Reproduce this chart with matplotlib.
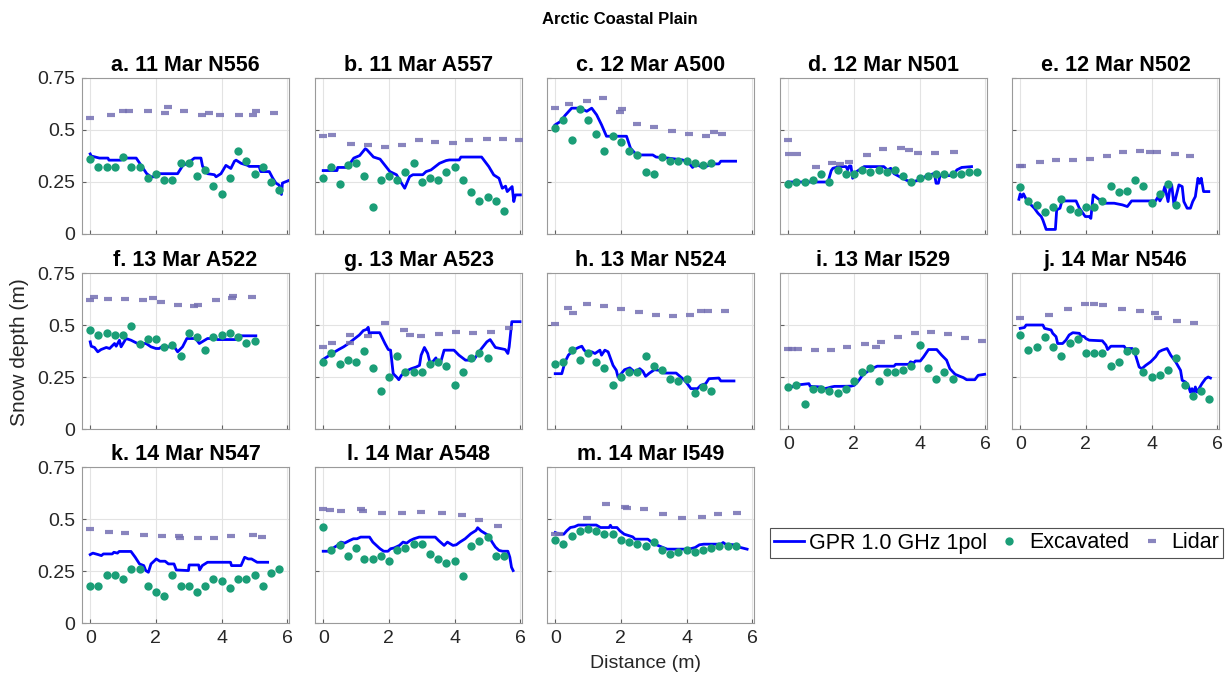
import matplotlib
matplotlib.use("Agg")
import matplotlib.pyplot as plt

plt.rcParams["font.family"] = ["Liberation Sans", "DejaVu Sans"]

# excavation positions along each transect (m)
DIST = [0.0, 0.25, 0.5, 0.75, 1.0, 1.25, 1.5, 1.75, 2.0, 2.25, 2.5, 2.75,
        3.0, 3.25, 3.5, 3.75, 4.0, 4.25, 4.5, 4.75, 5.0, 5.25, 5.5, 5.75]

# ---- a. 11 Mar N556
gpr_a_x = [0, 0.03, 0.28, 0.54, 0.57, 0.94, 0.99, 1.4, 1.55, 1.72, 1.85, 2.0, 2.06, 2.66, 2.82, 2.97, 3.17, 3.37, 3.42, 3.52,
           3.57, 3.78, 3.83, 3.98, 4.13, 4.28, 4.39, 4.44, 4.59, 4.79, 4.84, 5.14, 5.19, 5.45, 5.55, 5.65, 5.75, 5.82, 5.85, 6.04]
gpr_a_y = [0.385, 0.375, 0.365, 0.365, 0.355, 0.355, 0.365, 0.365, 0.33, 0.29, 0.275, 0.275, 0.29, 0.29, 0.33, 0.34, 0.365, 0.365, 0.325, 0.31,
           0.29, 0.285, 0.275, 0.29, 0.33, 0.315, 0.35, 0.355, 0.34, 0.33, 0.325, 0.325, 0.30, 0.30, 0.27, 0.245, 0.235, 0.19, 0.245, 0.257]
exc_a = [0.36, 0.32, 0.32, 0.32, 0.37, 0.32, 0.32, 0.27, 0.29, 0.26, 0.26, 0.34, 0.34, 0.28, 0.31, 0.23, 0.19, 0.27, 0.40, 0.35, 0.29, 0.32, 0.25, 0.21]
lid_a_x = [0, 0.64, 0.99, 1.19, 1.75, 2.29, 2.37, 2.84, 3.40, 3.63, 3.96, 4.54, 4.96, 5.06, 5.6]
lid_a_y = [0.56, 0.57, 0.59, 0.59, 0.59, 0.58, 0.61, 0.59, 0.57, 0.58, 0.57, 0.57, 0.57, 0.59, 0.58]

# ---- b. 11 Mar A557
gpr_b_x = [0, 0.42, 0.44, 0.73, 0.93, 1.11, 1.28, 1.33, 1.53, 1.73, 1.88, 2.03, 2.23, 2.38, 2.48, 2.63, 2.73, 3.03, 3.13, 3.28,
           3.54, 3.74, 3.84, 4.14, 4.19, 4.82, 5.04, 5.19, 5.35, 5.45, 5.55, 5.6, 5.75, 5.8, 5.85, 6.0]
gpr_b_y = [0.305, 0.305, 0.32, 0.32, 0.365, 0.377, 0.41, 0.405, 0.37, 0.36, 0.33, 0.30, 0.285, 0.245, 0.22, 0.276, 0.285, 0.285, 0.30, 0.308,
           0.34, 0.353, 0.356, 0.356, 0.37, 0.37, 0.324, 0.284, 0.268, 0.22, 0.23, 0.204, 0.228, 0.156, 0.188, 0.188]
exc_b = [0.27, 0.32, 0.24, 0.33, 0.34, 0.28, 0.13, 0.26, 0.28, 0.26, 0.30, 0.34, 0.25, 0.27, 0.26, 0.30, 0.32, 0.26, 0.20, 0.16, 0.18, 0.16, 0.11]
lid_b_x = [0, 0.27, 0.84, 1.36, 1.88, 2.4, 2.9, 3.39, 3.94, 4.44, 4.97, 5.47, 5.97]
lid_b_y = [0.472, 0.477, 0.434, 0.429, 0.418, 0.429, 0.453, 0.44, 0.437, 0.45, 0.456, 0.456, 0.45]

# ---- c. 12 Mar A500
gpr_c_x = [0, 0.15, 0.3, 0.5, 0.76, 0.96, 1.11, 1.26, 1.41, 1.56, 1.71, 2.17, 2.29, 2.42, 2.57, 2.97, 3.07, 3.43, 3.88, 4.08,
           4.18, 4.28, 4.43, 4.58, 4.78, 4.98, 5.04, 5.49]
gpr_c_y = [0.525, 0.54, 0.57, 0.605, 0.605, 0.59, 0.605, 0.573, 0.525, 0.47, 0.47, 0.47, 0.413, 0.39, 0.38, 0.38, 0.37, 0.365, 0.356, 0.34,
           0.32, 0.337, 0.324, 0.324, 0.337, 0.337, 0.35, 0.35]
exc_c = [0.51, 0.55, 0.45, 0.60, 0.55, 0.48, 0.40, 0.47, 0.44, 0.40, 0.38, 0.30, 0.29, 0.37, 0.35, 0.35, 0.35, 0.34, 0.33, 0.34]
lid_c_x = [0, 0.42, 0.96, 1.46, 1.96, 2.04, 2.49, 3.02, 3.54, 4.06, 4.58, 4.84, 5.07]
lid_c_y = [0.605, 0.626, 0.64, 0.655, 0.585, 0.60, 0.53, 0.514, 0.495, 0.479, 0.472, 0.488, 0.483]

# ---- d. 12 Mar N501
gpr_d_x = [0, 1.21, 1.31, 1.36, 1.56, 1.76, 1.81, 1.86, 1.91, 1.96, 2.08, 2.31, 2.91, 3.02, 3.12, 3.22, 3.42, 3.62, 3.77, 3.92,
           4.07, 4.27, 4.45, 4.5, 4.57, 4.62, 5.03, 5.13, 5.28, 5.58]
gpr_d_y = [0.25, 0.25, 0.305, 0.316, 0.324, 0.324, 0.308, 0.327, 0.327, 0.268, 0.30, 0.324, 0.324, 0.308, 0.316, 0.29, 0.273, 0.257, 0.25, 0.257,
           0.27, 0.281, 0.292, 0.244, 0.244, 0.281, 0.281, 0.308, 0.32, 0.324]
exc_d = [0.24, 0.25, 0.25, 0.26, 0.29, 0.25, 0.31, 0.29, 0.29, 0.31, 0.30, 0.31, 0.30, 0.31, 0.28, 0.25, 0.27, 0.28, 0.29, 0.29, 0.29, 0.29, 0.30, 0.30]
lid_d_x = [0, 0.03, 0.27, 0.85, 1.33, 1.58, 1.86, 2.39, 2.89, 3.44, 3.67, 3.95, 4.47, 5.05]
lid_d_y = [0.45, 0.384, 0.384, 0.324, 0.34, 0.336, 0.347, 0.379, 0.41, 0.413, 0.405, 0.39, 0.389, 0.395]

# ---- e. 12 Mar N502
gpr_e_x = [-0.04, 0, 0.05, 0.1, 0.18, 0.33, 0.43, 0.54, 0.64, 0.69, 0.79, 1.07, 1.11, 1.21, 1.27, 1.7, 1.8, 1.98, 2.1, 2.15,
           2.22, 2.35, 2.55, 2.86, 3.11, 3.26, 3.39, 4.12, 4.2, 4.25, 4.32, 4.4, 4.5, 4.55, 4.61, 4.68, 4.83, 4.93, 4.98, 5.08,
           5.18, 5.25, 5.33, 5.41, 5.46, 5.51, 5.58, 5.74]
gpr_e_y = [0.167, 0.193, 0.177, 0.193, 0.167, 0.14, 0.124, 0.10, 0.084, 0.067, 0.022, 0.022, 0.116, 0.124, 0.159, 0.159, 0.124, 0.084, 0.084, 0.075,
           0.188, 0.172, 0.148, 0.148, 0.14, 0.132, 0.159, 0.159, 0.18, 0.159, 0.18, 0.228, 0.156, 0.212, 0.236, 0.14, 0.236, 0.228, 0.156, 0.124,
           0.124, 0.156, 0.18, 0.268, 0.244, 0.268, 0.204, 0.204]
exc_e = [0.228, 0.157, 0.138, 0.108, 0.128, 0.17, 0.118, 0.108, 0.128, 0.128, 0.159, 0.23, 0.2, 0.209, 0.26, 0.23, 0.15, 0.19, 0.24, 0.138]
lid_e_x = [-0.02, 0.06, 0.59, 1.09, 1.62, 2.12, 2.63, 3.14, 3.65, 3.94, 4.15, 4.7, 5.18]
lid_e_y = [0.329, 0.329, 0.345, 0.356, 0.356, 0.361, 0.374, 0.392, 0.40, 0.392, 0.395, 0.387, 0.373]

# ---- f. 13 Mar A522
gpr_f_x = [0, 0.03, 0.13, 0.23, 0.33, 0.49, 0.59, 0.74, 0.79, 0.89, 0.94, 1.09, 1.24, 1.44, 1.7, 1.85, 2.0, 2.1, 2.2, 2.3,
           2.56, 2.66, 2.81, 2.94, 3.21, 3.32, 3.57, 3.72, 3.77, 3.87, 4.43, 4.48, 5.04]
gpr_f_y = [0.419, 0.398, 0.392, 0.371, 0.382, 0.392, 0.387, 0.411, 0.398, 0.427, 0.395, 0.435, 0.427, 0.411, 0.411, 0.395, 0.387, 0.387, 0.398, 0.395,
           0.395, 0.371, 0.395, 0.435, 0.435, 0.411, 0.435, 0.435, 0.443, 0.43, 0.43, 0.448, 0.448]
exc_f = [0.474, 0.453, 0.463, 0.453, 0.453, 0.494, 0.411, 0.434, 0.434, 0.392, 0.403, 0.352, 0.463, 0.444, 0.382, 0.444, 0.453, 0.463, 0.444, 0.413, 0.423]
lid_f_x = [0, 0.11, 0.54, 1.07, 1.62, 1.9, 2.16, 2.68, 3.17, 3.27, 3.83, 4.3, 4.35, 4.91]
lid_f_y = [0.621, 0.634, 0.626, 0.626, 0.618, 0.629, 0.61, 0.597, 0.592, 0.598, 0.621, 0.629, 0.64, 0.637]

# ---- g. 13 Mar A523
gpr_g_x = [0, 0.12, 0.27, 0.47, 0.62, 0.77, 0.92, 1.1, 1.22, 1.32, 1.37, 1.4, 1.47, 1.72, 1.88, 1.98, 2.05, 2.13, 2.25, 2.3,
           2.38, 2.53, 2.68, 2.83, 2.93, 2.98, 3.08, 3.18, 3.25, 3.33, 3.43, 3.48, 3.58, 3.68, 3.98, 4.13, 4.33, 4.58, 4.78, 4.98,
           5.08, 5.24, 5.39, 5.54, 5.62, 5.66, 5.74, 5.99]
gpr_g_y = [0.335, 0.347, 0.363, 0.382, 0.395, 0.411, 0.43, 0.452, 0.473, 0.479, 0.489, 0.46, 0.463, 0.463, 0.411, 0.382, 0.379, 0.266, 0.247, 0.237,
           0.258, 0.279, 0.29, 0.298, 0.306, 0.355, 0.392, 0.363, 0.318, 0.323, 0.342, 0.318, 0.323, 0.379, 0.379, 0.355, 0.331, 0.331, 0.379, 0.419,
           0.43, 0.392, 0.387, 0.382, 0.363, 0.395, 0.516, 0.516]
exc_g = [0.323, 0.363, 0.311, 0.332, 0.323, 0.373, 0.292, 0.181, 0.252, 0.352, 0.273, 0.273, 0.273, 0.311, 0.323, 0.302, 0.211, 0.273, 0.342, 0.363, 0.342]
lid_g_x = [0, 0.27, 0.82, 0.82, 1.35, 1.88, 2.45, 2.65, 2.98, 3.53, 4.03, 4.55, 5.1, 5.66]
lid_g_y = [0.392, 0.413, 0.452, 0.413, 0.448, 0.511, 0.476, 0.452, 0.448, 0.456, 0.468, 0.46, 0.468, 0.484]

# ---- h. 13 Mar N524
gpr_h_x = [0, 0.2, 0.3, 0.4, 0.55, 0.71, 0.81, 0.88, 1.01, 1.11, 1.21, 1.36, 1.41, 1.51, 1.61, 1.76, 1.86, 1.91, 2.01, 2.11,
           2.27, 2.42, 2.57, 2.67, 2.75, 2.87, 3.02, 3.17, 3.32, 3.68, 3.88, 3.98, 4.13, 4.33, 4.43, 4.58, 4.68, 4.98, 5.04, 5.44]
gpr_h_y = [0.266, 0.266, 0.323, 0.355, 0.379, 0.392, 0.398, 0.379, 0.363, 0.371, 0.363, 0.379, 0.355, 0.379, 0.371, 0.306, 0.282, 0.25, 0.266, 0.285,
           0.294, 0.274, 0.29, 0.277, 0.253, 0.269, 0.285, 0.282, 0.269, 0.269, 0.242, 0.226, 0.194, 0.194, 0.21, 0.218, 0.242, 0.245, 0.231, 0.231]
exc_h = [0.311, 0.323, 0.382, 0.332, 0.363, 0.323, 0.292, 0.211, 0.252, 0.273, 0.273, 0.352, 0.302, 0.282, 0.242, 0.231, 0.242, 0.171, 0.202, 0.181]
lid_h_x = [0, 0.4, 0.53, 0.96, 1.48, 2.0, 2.55, 3.07, 3.6, 4.11, 4.43, 4.65, 5.18]
lid_h_y = [0.506, 0.581, 0.556, 0.602, 0.589, 0.579, 0.563, 0.547, 0.544, 0.55, 0.565, 0.568, 0.568]

# ---- i. 13 Mar I529
gpr_i_x = [0, 0.1, 0.35, 0.63, 0.67, 1.0, 1.1, 1.2, 1.31, 1.41, 1.56, 1.91, 2.01, 2.11, 2.26, 2.46, 2.61, 2.71, 3.22, 3.27,
           3.67, 3.72, 3.82, 3.87, 4.02, 4.12, 4.27, 4.52, 4.67, 4.82, 4.92, 5.08, 5.23, 5.33, 5.43, 5.68, 5.78, 5.98]
gpr_i_y = [0.205, 0.202, 0.213, 0.218, 0.205, 0.202, 0.194, 0.197, 0.202, 0.205, 0.205, 0.206, 0.21, 0.226, 0.258, 0.282, 0.295, 0.302, 0.302, 0.311,
           0.311, 0.323, 0.318, 0.327, 0.327, 0.347, 0.382, 0.382, 0.355, 0.331, 0.29, 0.263, 0.253, 0.247, 0.237, 0.237, 0.258, 0.263]
exc_i = [0.202, 0.211, 0.121, 0.192, 0.192, 0.181, 0.171, 0.192, 0.232, 0.273, 0.292, 0.232, 0.273, 0.273, 0.282, 0.302, 0.402, 0.292, 0.242, 0.273, 0.242]
lid_i_x = [0, 0.1, 0.3, 0.8, 1.31, 1.79, 2.33, 2.66, 2.82, 3.34, 3.85, 4.35, 4.85, 5.38, 5.91]
lid_i_y = [0.386, 0.387, 0.386, 0.381, 0.381, 0.392, 0.41, 0.392, 0.418, 0.442, 0.46, 0.465, 0.455, 0.437, 0.421]

# ---- j. 14 Mar N546
gpr_j_x = [0, 0.13, 0.18, 0.69, 0.74, 0.94, 0.99, 1.09, 1.14, 1.29, 1.39, 1.49, 1.6, 1.8, 1.85, 1.95, 2.0, 2.1, 2.5, 2.61,
           2.66, 2.76, 3.16, 3.21, 3.41, 3.51, 3.62, 3.7, 3.82, 3.97, 4.12, 4.22, 4.32, 4.47, 4.58, 4.73, 4.88, 4.93, 5.03, 5.13,
           5.18, 5.23, 5.28, 5.33, 5.38, 5.53, 5.64, 5.72, 5.79]
gpr_j_y = [0.484, 0.488, 0.5, 0.5, 0.484, 0.476, 0.46, 0.444, 0.411, 0.411, 0.427, 0.452, 0.463, 0.46, 0.447, 0.444, 0.435, 0.427, 0.424, 0.403,
           0.382, 0.398, 0.398, 0.387, 0.387, 0.355, 0.298, 0.29, 0.306, 0.323, 0.347, 0.371, 0.379, 0.387, 0.355, 0.323, 0.282, 0.234, 0.226, 0.202,
           0.177, 0.194, 0.169, 0.202, 0.177, 0.218, 0.242, 0.25, 0.245]
exc_j = [0.452, 0.382, 0.392, 0.442, 0.392, 0.352, 0.413, 0.432, 0.363, 0.363, 0.363, 0.302, 0.323, 0.373, 0.373, 0.273, 0.252, 0.261, 0.282, 0.342,
         0.211, 0.161, 0.182, 0.142]
lid_j_x = [0, 0.89, 1.46, 1.97, 2.24, 2.52, 3.1, 3.66, 4.1, 4.18, 4.76, 5.28]
lid_j_y = [0.532, 0.547, 0.579, 0.602, 0.602, 0.594, 0.579, 0.565, 0.556, 0.532, 0.519, 0.511]

# ---- k. 14 Mar N547
gpr_k_x = [0, 0.08, 0.24, 0.34, 0.4, 0.67, 0.72, 0.83, 0.88, 1.24, 1.37, 1.5, 1.63, 1.69, 1.77, 1.85, 1.96, 2.01, 2.12, 2.28,
           2.38, 2.55, 2.62, 2.99, 3.01, 3.3, 3.33, 3.41, 3.52, 3.57, 4.27, 4.3, 4.59, 4.7, 4.81, 4.91, 5.08, 5.4]
gpr_k_y = [0.329, 0.336, 0.329, 0.324, 0.332, 0.332, 0.34, 0.336, 0.344, 0.344, 0.316, 0.284, 0.276, 0.252, 0.244, 0.284, 0.30, 0.308, 0.297, 0.297,
           0.284, 0.284, 0.255, 0.252, 0.279, 0.279, 0.255, 0.276, 0.287, 0.292, 0.292, 0.276, 0.276, 0.316, 0.308, 0.308, 0.292, 0.292]
exc_k = [0.18, 0.18, 0.231, 0.231, 0.21, 0.262, 0.262, 0.18, 0.149, 0.128, 0.231, 0.18, 0.18, 0.149, 0.18, 0.21, 0.2, 0.17, 0.21, 0.21,
         0.231, 0.18, 0.241, 0.262]
lid_k_x = [0, 0.56, 1.06, 1.63, 2.17, 2.71, 2.73, 3.28, 3.78, 4.29, 4.94, 5.24]
lid_k_y = [0.45, 0.437, 0.432, 0.424, 0.416, 0.416, 0.41, 0.41, 0.41, 0.416, 0.424, 0.413]

# ---- l. 14 Mar A548
gpr_l_x = [0, 0.16, 0.27, 0.43, 0.54, 0.65, 0.81, 0.92, 1.03, 1.14, 1.41, 1.51, 1.62, 1.73, 1.84, 1.97, 2.05, 2.16, 2.32, 2.43,
           2.54, 2.65, 2.76, 2.92, 3.41, 3.51, 3.68, 3.78, 3.95, 4.05, 4.16, 4.32, 4.49, 4.65, 4.7, 4.81, 5.03, 5.14, 5.24, 5.35,
           5.46, 5.62, 5.68, 5.73, 5.78]
gpr_l_y = [0.345, 0.345, 0.357, 0.373, 0.389, 0.384, 0.397, 0.405, 0.405, 0.413, 0.413, 0.389, 0.373, 0.357, 0.345, 0.345, 0.357, 0.361, 0.373, 0.389,
           0.384, 0.397, 0.405, 0.413, 0.413, 0.397, 0.373, 0.389, 0.373, 0.376, 0.389, 0.405, 0.429, 0.445, 0.458, 0.442, 0.421, 0.389, 0.365, 0.349,
           0.345, 0.345, 0.316, 0.268, 0.252]
exc_l = [0.461, 0.352, 0.373, 0.32, 0.361, 0.31, 0.31, 0.32, 0.30, 0.352, 0.361, 0.382, 0.382, 0.331, 0.31, 0.289, 0.30, 0.228, 0.371, 0.392,
         0.413, 0.321, 0.321]
lid_l_x = [0, 0.22, 0.54, 1.14, 1.22, 1.78, 2.39, 2.97, 3.61, 4.23, 4.74, 5.32]
lid_l_y = [0.546, 0.541, 0.538, 0.546, 0.538, 0.528, 0.53, 0.533, 0.527, 0.517, 0.496, 0.466]

# ---- m. 14 Mar I549
gpr_m_x = [0, 0.13, 0.26, 0.35, 0.46, 0.59, 0.7, 1.25, 1.38, 1.64, 1.68, 1.72, 1.88, 1.97, 2.1, 2.36, 2.43, 2.82, 2.95, 3.08,
           3.28, 3.41, 4.07, 4.26, 4.39, 4.52, 5.05, 5.11, 5.18, 5.44, 5.64, 5.84]
gpr_m_y = [0.435, 0.427, 0.427, 0.443, 0.459, 0.463, 0.471, 0.471, 0.459, 0.459, 0.47, 0.459, 0.459, 0.443, 0.427, 0.414, 0.403, 0.403, 0.387, 0.376,
           0.363, 0.355, 0.355, 0.363, 0.376, 0.379, 0.379, 0.387, 0.379, 0.376, 0.363, 0.355]
exc_m = [0.40, 0.38, 0.42, 0.44, 0.45, 0.44, 0.43, 0.43, 0.40, 0.39, 0.38, 0.37, 0.39, 0.35, 0.33, 0.34, 0.35, 0.34, 0.35, 0.36,
         0.37, 0.37, 0.37]
lid_m_x = [0, 0.13, 0.98, 1.55, 2.13, 2.2, 2.69, 3.28, 3.87, 4.46, 4.96, 5.53]
lid_m_y = [0.427, 0.427, 0.503, 0.573, 0.557, 0.551, 0.546, 0.525, 0.506, 0.509, 0.522, 0.53]

TITLES = ["a. 11 Mar N556", "b. 11 Mar A557", "c. 12 Mar A500", "d. 12 Mar N501", "e. 12 Mar N502",
          "f. 13 Mar A522", "g. 13 Mar A523", "h. 13 Mar N524", "i. 13 Mar I529", "j. 14 Mar N546",
          "k. 14 Mar N547", "l. 14 Mar A548", "m. 14 Mar I549"]

PANELS = [
    (gpr_a_x, gpr_a_y, exc_a, lid_a_x, lid_a_y),
    (gpr_b_x, gpr_b_y, exc_b, lid_b_x, lid_b_y),
    (gpr_c_x, gpr_c_y, exc_c, lid_c_x, lid_c_y),
    (gpr_d_x, gpr_d_y, exc_d, lid_d_x, lid_d_y),
    (gpr_e_x, gpr_e_y, exc_e, lid_e_x, lid_e_y),
    (gpr_f_x, gpr_f_y, exc_f, lid_f_x, lid_f_y),
    (gpr_g_x, gpr_g_y, exc_g, lid_g_x, lid_g_y),
    (gpr_h_x, gpr_h_y, exc_h, lid_h_x, lid_h_y),
    (gpr_i_x, gpr_i_y, exc_i, lid_i_x, lid_i_y),
    (gpr_j_x, gpr_j_y, exc_j, lid_j_x, lid_j_y),
    (gpr_k_x, gpr_k_y, exc_k, lid_k_x, lid_k_y),
    (gpr_l_x, gpr_l_y, exc_l, lid_l_x, lid_l_y),
    (gpr_m_x, gpr_m_y, exc_m, lid_m_x, lid_m_y),
]

GPR_COLOR = "#0000ff"
EXC_COLOR = "#1b9e77"
LID_COLOR = "#7570b3"

W, H = 1226, 677
fig = plt.figure(figsize=(W / 100, H / 100), dpi=100)

col_left = [82, 315, 547, 780, 1012]
row_top = [78, 273, 467]
ax_w, ax_h = 207, 156

handles = None
for idx, (gx, gy, exc, lx, ly) in enumerate(PANELS):
    r, c = divmod(idx, 5)
    left = col_left[c] / W
    bottom = 1 - (row_top[r] + ax_h) / H
    ax = fig.add_axes([left, bottom, ax_w / W, ax_h / H])

    h1, = ax.plot(gx, gy, color=GPR_COLOR, lw=2, zorder=3)
    h2, = ax.plot(DIST[:len(exc)], exc, "o", color=EXC_COLOR, ms=6, mec="none", zorder=4)
    h3, = ax.plot(lx, ly, "_", color=LID_COLOR, ms=5.5, mew=3, alpha=0.85, zorder=5)
    if handles is None:
        handles = [h1, h2, h3]

    ax.set_xlim(-0.25, 6.05)
    ax.set_ylim(0, 0.75)
    ax.set_xticks([0, 2, 4, 6])
    ax.set_yticks([0, 0.25, 0.5, 0.75])
    ax.grid(True, color="#e3e3e3", lw=0.8)
    ax.set_axisbelow(True)
    for s in ax.spines.values():
        s.set_color("#9a9a9a")
        s.set_linewidth(0.8)
    ax.tick_params(direction="in", length=3, color="#606060", labelsize=14,
                   labelcolor="#262626", pad=5)
    ax.set_title(TITLES[idx], fontsize=15.5, fontweight="bold", pad=5)

    if c == 0:
        ax.set_yticklabels(["0", "0.25", "0.5", "0.75"])
    else:
        ax.set_yticklabels([])
    if r == 2 or (r == 1 and c >= 3):
        ax.set_xticklabels(["0", "2", "4", "6"])
    else:
        ax.set_xticklabels([])

fig.text(620 / W, 1 - 20 / H, "Arctic Coastal Plain", ha="center", va="center",
         fontsize=12, fontweight="bold")
fig.text(20 / W, 1 - 352 / H, "Snow depth (m)", rotation=90, ha="center", va="center",
         fontsize=15, color="#262626")
fig.text(645 / W, 1 - 663 / H, "Distance (m)", ha="center", va="center",
         fontsize=14, color="#262626")

leg = fig.legend(handles, ["GPR 1.0 GHz 1pol", "Excavated", "Lidar"], ncol=3,
                 loc="center", bbox_to_anchor=(996.5 / W, 1 - 543 / H),
                 fontsize=15.5, frameon=True, fancybox=False, edgecolor="#262626",
                 handlelength=1.4, handletextpad=0.2, columnspacing=0.35,
                 borderpad=0.2, borderaxespad=0)
leg.get_frame().set_linewidth(0.8)

fig.savefig("out.png", dpi=100)
